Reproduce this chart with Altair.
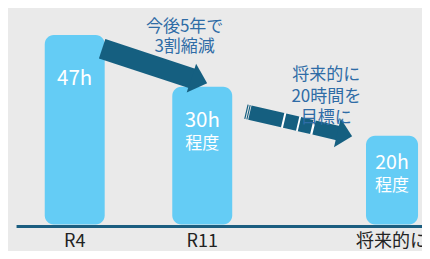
import altair as alt
import pandas as pd

# ---------------- data ----------------
categories = ["R4", "R11", "将来的に"]
hours = [47, 30, 20]
hour_labels = ["47h", "30h", "20h"]
qualifiers = ["", "程度", "程度"]
# drawn bar heights (the infographic is not drawn to scale)
bar_heights = [47, 34.2, 22.0]

note1 = "今後5年で\n3割縮減"
note2 = "将来的に\n20時間を\n目標に"

# ---------------- layout (data units) ----------------
slot = [0, 1, 2.488]
half_w = [0.235, 0.235, 0.204]
label_y = [36.06, 25.6, 15.2]
label_fs = [20.5, 20.5, 19.5]
qual_y = [0, 19.9, 9.5]
cat_y = -5.5

X_DOM = [-0.5231, 2.7231]
Y_DOM = [-6.611, 53.726]

FONT = "Noto Sans CJK JP"
BG = "#eaeaea"
BAR = "#64ccf5"
DARK = "#155f80"
LINE = "#1b5e80"
NOTE = "#2f6ca6"

xs = alt.Scale(domain=X_DOM, nice=False, zero=False)
ys = alt.Scale(domain=Y_DOM, nice=False, zero=False)


def X(f):
    return alt.X(f, type="quantitative", scale=xs, axis=None)


def Y(f):
    return alt.Y(f, type="quantitative", scale=ys, axis=None)


bars = pd.DataFrame({
    "cat": categories,
    "hours": hours,
    "lab": hour_labels,
    "qual": qualifiers,
    "h": bar_heights,
    "x1": [p - w for p, w in zip(slot, half_w)],
    "x2": [p + w for p, w in zip(slot, half_w)],
    "pos": slot,
    "ly": label_y,
    "fs": label_fs,
    "qy": qual_y,
    "base": [0, 0, 0],
    "cy": [cat_y] * 3,
})

axis_line = alt.Chart(pd.DataFrame({"x": [-0.456], "x2": [X_DOM[1] + 0.05], "y": [-0.53]})).mark_rule(
    strokeWidth=3.2, color=LINE, strokeCap="butt"
).encode(x=X("x"), x2="x2", y=Y("y"))

bar_layer = alt.Chart(bars).mark_rect(cornerRadius=9, color=BAR).encode(
    x=X("x1"), x2="x2", y=Y("base"), y2="h"
)

hour_text = alt.Chart(bars).mark_text(font=FONT, color="white", baseline="middle", align="center").encode(
    x=X("pos"), y=Y("ly"), text="lab:N", size=alt.Size("fs:Q", scale=None)
)

qual_text = alt.Chart(bars).transform_filter("datum.qual != ''").mark_text(
    font=FONT, color="white", baseline="middle", align="center", fontSize=17
).encode(x=X("pos"), y=Y("qy"), text="qual:N")

cat_text = alt.Chart(bars).mark_text(
    font=FONT, color="#222222", baseline="alphabetic", align="center", fontSize=18
).encode(x=X("pos"), y=Y("cy"), text="cat:N")

# arrow 1 (solid)
a1 = pd.DataFrame({"x": [0.215], "y": [43.63], "x2": [0.931], "y2": [36.13]})
a1_shaft = alt.Chart(a1).mark_rule(strokeWidth=20.5, color=DARK, strokeCap="butt").encode(
    x=X("x"), y=Y("y"), x2="x2", y2="y2"
)
a1_head = alt.Chart(pd.DataFrame({"x": [0.915], "y": [36.3]})).mark_point(
    shape="M 0 -1.55 L 1.7 0 L 0 1.55 Z", size=380, filled=True, opacity=1,
    color=DARK, strokeWidth=0, angle=18.2
).encode(x=X("x"), y=Y("y"))

# arrow 2 (broken)
a2 = pd.DataFrame({"x": [1.342], "y": [28.0], "x2": [2.073], "y2": [22.6]})
a2_back = alt.Chart(pd.DataFrame({"x": [1.627], "y": [25.91], "x2": [1.889], "y2": [23.99]})).mark_rule(
    strokeWidth=14.6, color="white", strokeCap="butt"
).encode(x=X("x"), y=Y("y"), x2="x2", y2="y2")
a2_shaft = alt.Chart(a2).mark_rule(
    strokeWidth=14.6, color=DARK, strokeCap="butt",
    strokeDash=[1.2, 1.0, 1.1, 0.8, 33.7, 2, 13.4, 1.8, 12.7, 2.3, 300]
).encode(x=X("x"), y=Y("y"), x2="x2", y2="y2")
a2_head = alt.Chart(pd.DataFrame({"x": [2.059], "y": [22.72]})).mark_point(
    shape="M 0 -1.52 L 1.56 0 L 0 1.52 Z", size=380, filled=True, opacity=1,
    color=DARK, strokeWidth=0, angle=13.0
).encode(x=X("x"), y=Y("y"))

notes = pd.DataFrame({"t": [note1, note2], "x": [0.862, 1.973], "y": [48.92, 37.02]})
note1_text = alt.Chart(notes.iloc[[0]]).mark_text(
    font=FONT, color=NOTE, fontSize=17, lineBreak="\n", lineHeight=20, align="center", baseline="middle"
).encode(x=X("x"), y=Y("y"), text="t:N")
note2_text = alt.Chart(notes.iloc[[1]]).mark_text(
    font=FONT, color=NOTE, fontSize=17, lineBreak="\n", lineHeight=21.5, align="center", baseline="middle"
).encode(x=X("x"), y=Y("y"), text="t:N")

chart = alt.layer(
    axis_line, bar_layer, hour_text, qual_text, cat_text,
    a1_shaft, a1_head, a2_back, a2_shaft, a2_head, note1_text, note2_text
).properties(
    width=414, height=243, padding=0,
    autosize=alt.AutoSizeParams(type="none"),
    background=BG,
).configure_view(stroke=None)

chart.save("out.html", embed_options={"renderer": "svg", "actions": False})
